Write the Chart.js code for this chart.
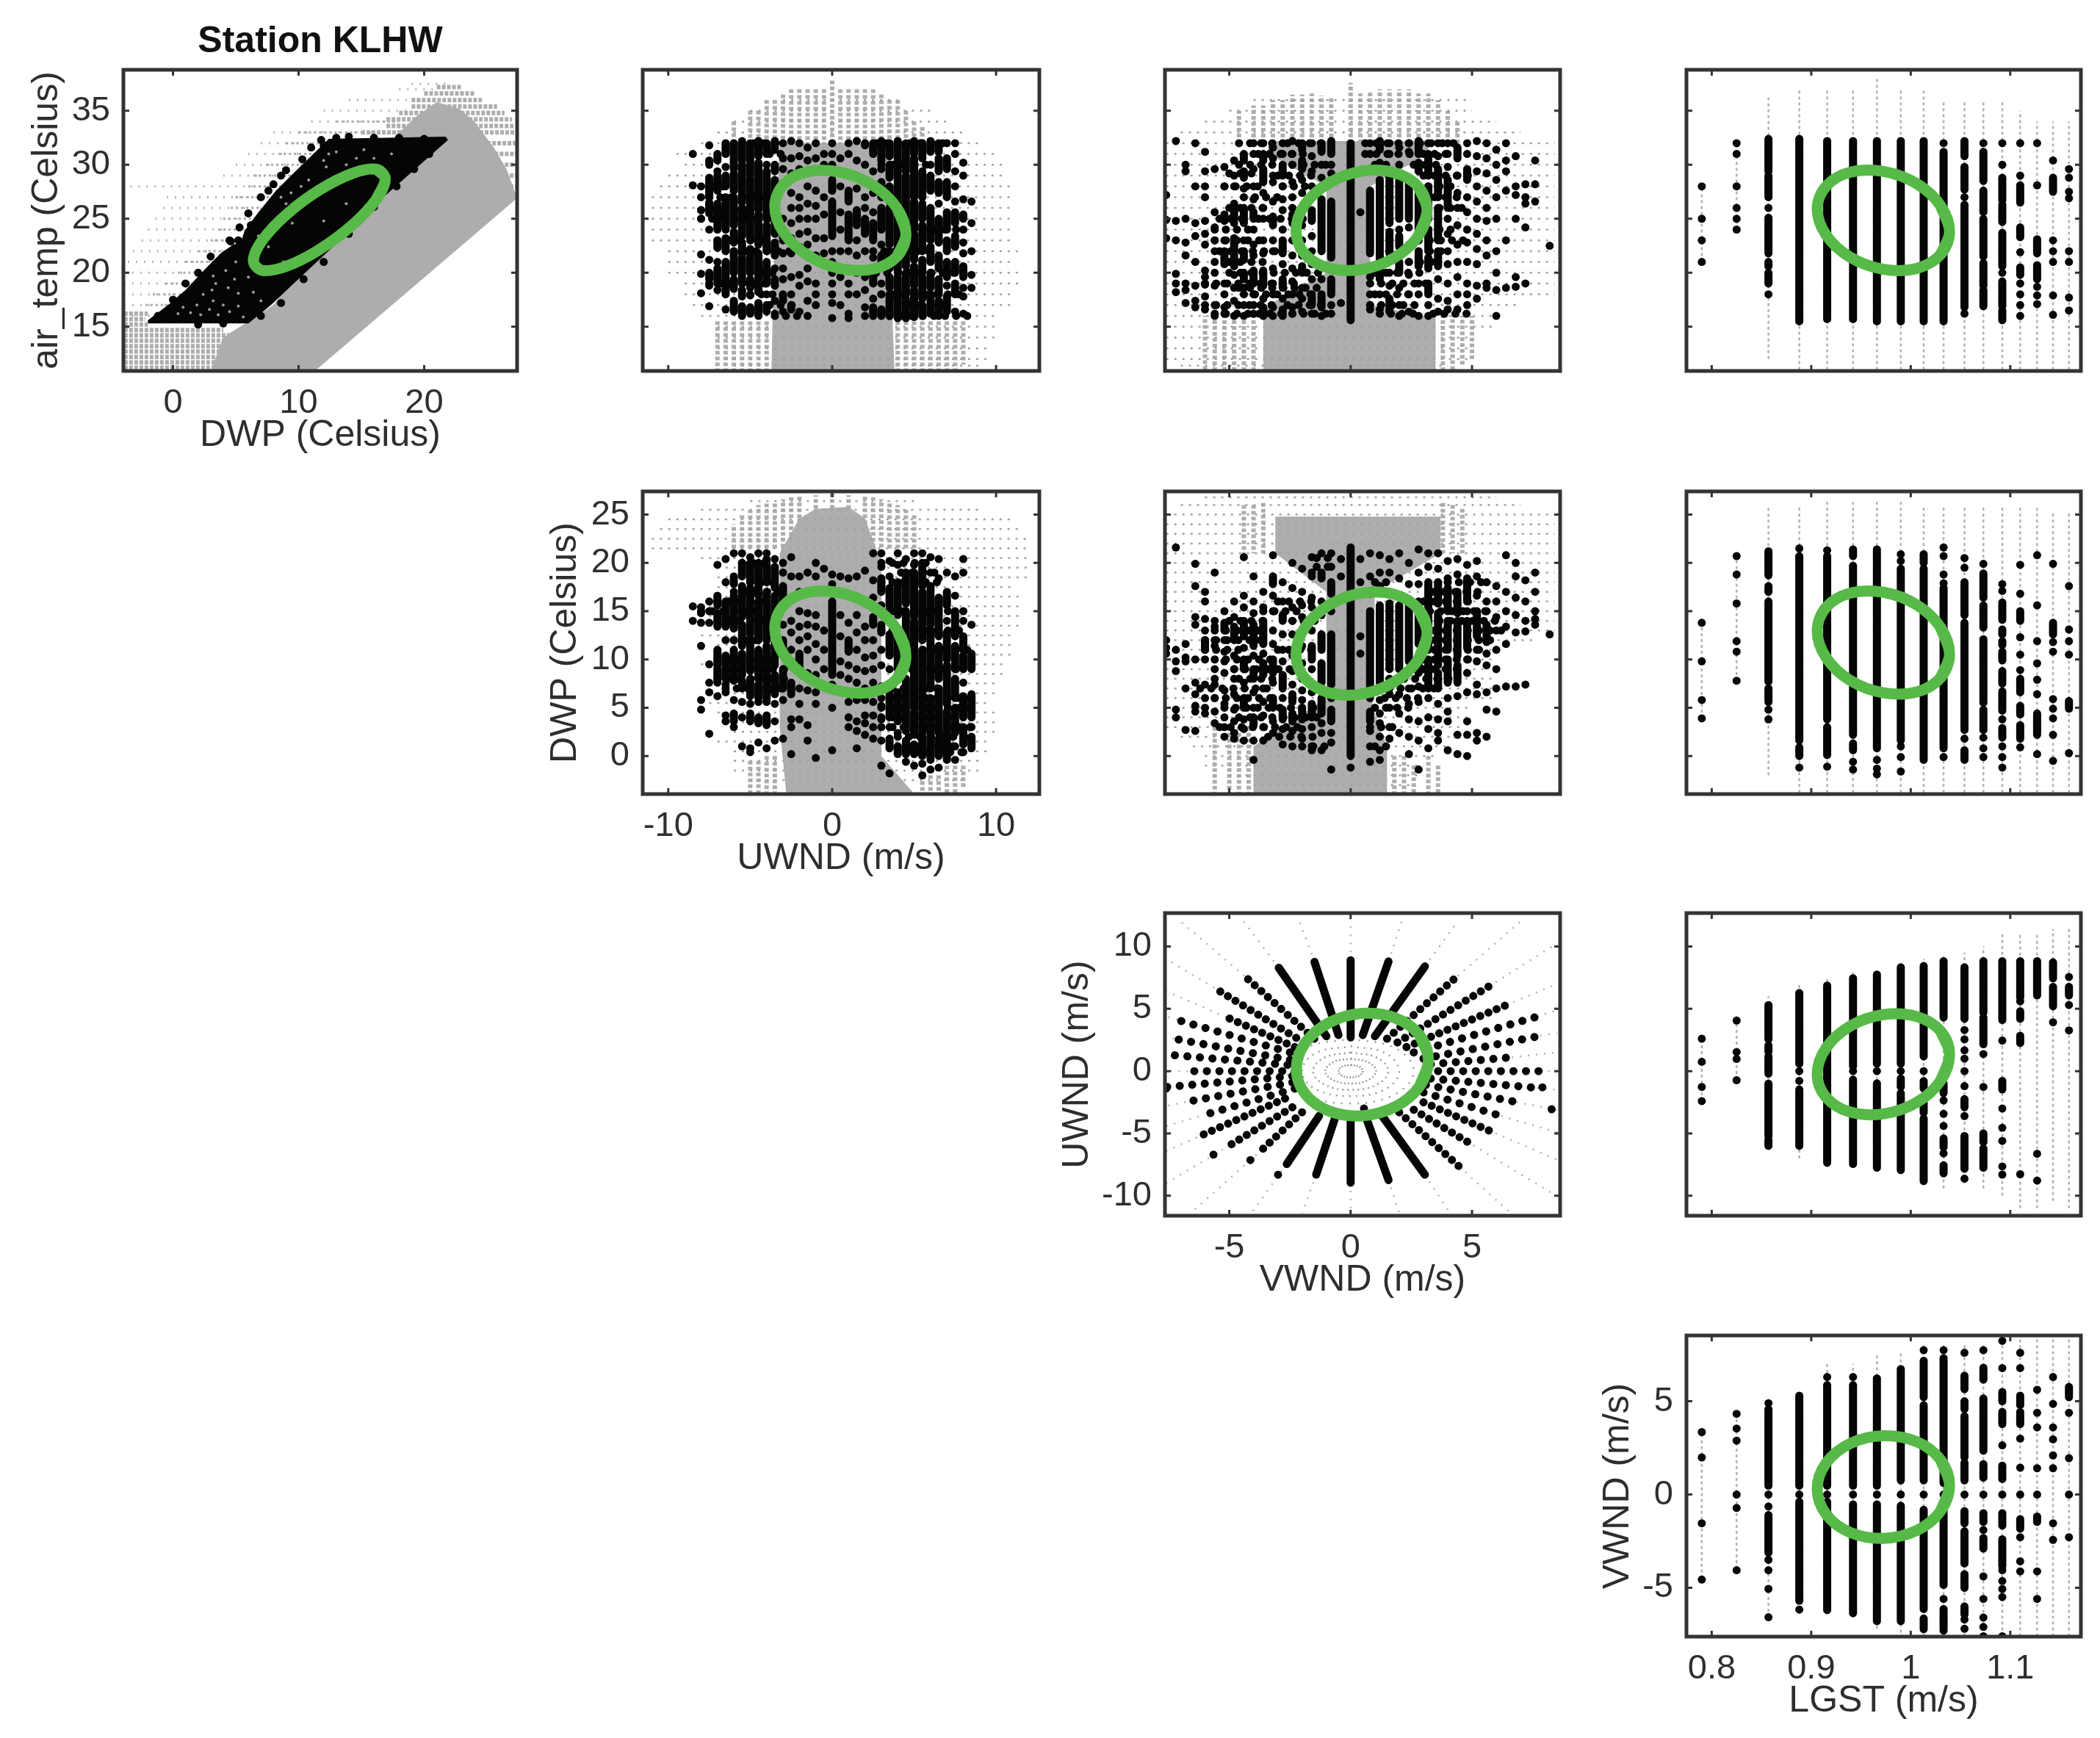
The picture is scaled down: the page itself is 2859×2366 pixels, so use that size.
<!DOCTYPE html>
<html>
<head>
<meta charset="utf-8">
<title>Station KLHW</title>
<script src="https://cdn.jsdelivr.net/npm/chart.js@4"></script>
<style>
  html, body { margin: 0; background: #fff; }
  #page { position: relative; width: 2859px; height: 2366px; overflow: hidden; }
  canvas { position: absolute; }
</style>
</head>
<body>
<div id="page"></div>
<script>
// tick labels
const dwpTicks = [0, 5, 10, 15, 20, 25];
const dwpXTicks = [0, 10, 20];
const airTicks = [15, 20, 25, 30, 35];
const uwndXTicks = [-10, 0, 10];
const uwndYTicks = [-10, -5, 0, 5, 10];
const vwndTicks = [-5, 0, 5];
const lgstTicks = [0.8, 0.9, 1, 1.1];

// green ellipses, twelve readings round each one
const ellipseAirDwp = [[16.9,28.7],[16.2,29.58],[14.28,29.2],[11.65,27.66],[9.03,25.39],[7.1,22.99],[6.4,21.1],[7.1,20.22],[9.03,20.6],[11.65,22.14],[14.28,24.41],[16.2,26.81]];
const ellipseAirUwnd = [[4.5,23.57],[3.96,25.98],[2.5,28.08],[0.5,29.32],[-1.5,29.36],[-2.96,28.19],[-3.5,26.13],[-2.96,23.72],[-1.5,21.62],[0.5,20.38],[2.5,20.34],[3.96,21.51]];
const ellipseAirVwnd = [[3.15,25.82],[2.79,27.96],[1.8,29.27],[0.45,29.4],[-0.9,28.3],[-1.89,26.29],[-2.25,23.88],[-1.89,21.74],[-0.9,20.43],[0.45,20.3],[1.8,21.39],[2.79,23.41]];
const ellipseAirLgst = [[1.039,23.8],[1.03,26.21],[1.006,28.25],[0.9725,29.38],[0.939,29.3],[0.915,28.02],[0.906,25.9],[0.915,23.49],[0.939,21.45],[0.9725,20.32],[1.006,20.4],[1.03,21.68]];
const ellipseDwpUwnd = [[4.5,10.34],[3.96,13.08],[2.5,15.48],[0.5,16.89],[-1.5,16.94],[-2.96,15.61],[-3.5,13.26],[-2.96,10.52],[-1.5,8.12],[0.5,6.71],[2.5,6.66],[3.96,7.99]];
const ellipseDwpVwnd = [[3.15,12.76],[2.79,15.23],[1.8,16.74],[0.45,16.88],[-0.9,15.62],[-1.89,13.3],[-2.25,10.54],[-1.89,8.07],[-0.9,6.56],[0.45,6.42],[1.8,7.68],[2.79,10]];
const ellipseDwpLgst = [[1.039,10.55],[1.03,13.31],[1.006,15.66],[0.9725,16.96],[0.939,16.86],[0.915,15.4],[0.906,12.95],[0.915,10.19],[0.939,7.84],[0.9725,6.54],[1.006,6.64],[1.03,8.1]];
const ellipseUwndVwnd = [[3.205,0.88],[2.84,2.89],[1.845,4.26],[0.485,4.63],[-0.875,3.9],[-1.87,2.27],[-2.235,0.17],[-1.87,-1.84],[-0.875,-3.21],[0.485,-3.58],[1.845,-2.85],[2.84,-1.22]];
const ellipseUwndLgst = [[1.039,1.32],[1.03,3.21],[1.006,4.38],[0.9725,4.53],[0.939,3.61],[0.915,1.87],[0.906,-0.22],[0.915,-2.1],[0.939,-3.28],[0.9725,-3.43],[1.006,-2.51],[1.03,-0.77]];
const ellipseVwndLgst = [[1.039,0.5],[1.03,1.86],[1.006,2.83],[0.9725,3.15],[0.939,2.73],[0.915,1.69],[0.906,0.3],[0.915,-1.06],[0.939,-2.03],[0.9725,-2.35],[1.006,-1.93],[1.03,-0.89]];

// panel air_temp / DWP
const airDwpBlack = [[-2,15.3],[6,15.3],[7.8,17],[9.7,19.1],[13.1,22.8],[16.75,27],[21.9,32.3],[21.7,32.6],[12.4,32.4],[11,30.8],[9.4,29],[8.2,27.6],[6.8,25.6],[5.7,23.9],[5.4,22.8],[4.8,22.6],[3.8,21.8],[2.6,20.4],[1,18.4],[-0.4,17],[-2,15.6]];
const airDwpEdge = [[-1.2,16],[0,17.5],[1,19],[2,20],[3,21.5],[4.5,23],[5.3,24.2],[6,25.5],[7,27],[8,28.2],[9,29.5],[10.3,30.5],[11,31.6],[11.8,32.3],[14,32.6],[16,32.5],[18,32.5],[20,32.4],[7,16],[8.6,17.2],[10.4,19.4],[12,21],[14,23.6],[16,26.1],[17.8,28],[19.2,29.6],[20.4,31],[2,15.2],[4,15.3],[4.6,22.9],[5.2,23],[6.2,24.4],[7.6,27.6],[8.6,29],[12,31.8],[13,32.5]];
const airDwpSpeckle = [[0.4,16.2],[0.8,16.8],[1.4,16.3],[1.9,17],[2.2,16.1],[2.9,16.6],[3.2,17.4],[3.6,16.1],[4,17],[4.5,16.4],[5.2,16.9],[5.6,15.9],[3.1,18.4],[3.4,19],[3.2,19.7],[2.4,18],[4.4,18.6],[4.9,19.4],[5.2,18.1],[4.2,20.2],[5,21],[6,19.6],[6.4,18.2],[7,17.4],[8.6,27],[9,26.4],[9.4,27.4],[9.2,25.6],[10.2,28],[10.8,28.6],[11.6,28],[12.2,29.8],[12.4,31],[13,31.2],[12,30.4],[14.6,30.6],[15.2,31.4],[13.8,30],[16,30.6],[17.4,31],[9.5,24.6],[7.6,22.4],[8,24.2],[6.8,23.4],[8.8,21],[12,24.8],[13.8,26.4]];
const airDwpDense = [[3,10.9],[11.3,10.9],[27.4,26.9],[26.6,29.5],[25.6,31.5],[24,34],[22.8,35.2],[21,35.8],[19.5,34.6],[18,33],[16,30],[8,17],[4,14]];
const airDwpBusyRows = [[11.2,-3.9,6],[11.7,-3.9,6],[12.2,-3.9,6],[12.7,-3.9,6],[13.2,-3.9,6],[13.7,-3.9,6],[14.2,-3.9,6],[14.7,-3.9,4],[15.2,-3.9,-2],[15.7,-3.9,-2.2],[16.2,-3.9,-2],[33,15,27.4],[33.6,17,27.2],[34.2,17,27],[34.8,18,26.4],[35.4,19,25.8],[36,19,24.6],[36.6,20,24],[37.2,21,23],[27,26.6,27.4],[28,26.4,27.4],[29,26,27.4],[30,25.6,27.4],[31,25.2,27.4],[32,24.6,27.4]];
const airDwpNearRows = [[17,-2.2,-0.4],[18,-1.6,0.8],[19,-0.6,1.6],[20,0.4,2.6],[21,1,3.4],[22,2,4.6],[23,3,5.5],[24,3.6,5.7],[25,4,6.2],[26,4.6,7],[27,5,7.8],[28,6,8.6],[29,6.4,9.4],[30,7.4,10.2],[31,8.4,11.2],[32,9,12],[33,10,15],[34,13,18]];
const airDwpSparseRows = [[16,-3.9,-1.5],[17,-3.9,-0.5],[18,-3.9,0.5],[19,-3.9,1.5],[20,-3.9,2.5],[21,-3.6,3.5],[22,-3.2,4.5],[23,-2.5,5.5],[24,-2,5.5],[25,-1.4,6],[26,-0.8,7],[27,-0.5,8],[28,-3.4,8.5],[29,4,9.5],[30,5,10.8],[31,6,11.5],[32,7,12],[33,8,16],[34,11,18],[35,12,19],[36,14,19],[37,18,21],[37.5,19,22]];

// black marks of the wind panels: one list per column, a number is a single
// reading, a pair is a stretch of touching readings
const uwndCols = [-8.5,-8,-7.5,-7,-6.5,-6,-5.5,-5,-4.5,-4,-3.5,-3,-2.5,-2,-1.5,-1,-0.5,0,0.5,1,1.5,2,2.5,3,3.5,4,4.5,5,5.5,6,6.5,7,7.5,8,8.5];
const airUwndRuns = [
  [31,28.1],
  [27,25.8,25,21.7,19.9,18.1],
  [31.8,[30.4,30],[28.8,27],[26.5,25.5],24,21.2,[20,19.4],18.8,16.9],
  [[31,30.4],29.4,[29,27.6],[26.4,24],[23,22.3],21,[20.4,19],18.4],
  [[32,31],29.8,[29,28],[27,24],[23.2,22],[21,19.2],[18.7,18],16.6],
  [[32,29.6],[29.2,27.6],[27,24.4],[23.8,22.8],[22,20],[19.4,18.5],[17.4,16.4]],
  [[32.2,30.4],[30,26.5],[26,23.4],[22.8,21.8],[21.4,19],[18.4,17.8],[16.9,16]],
  [[32,29],[28.8,25.4],[25,23],[22.2,20],[19.4,18.6],17.9,[16.8,16.2]],
  [[32.2,30.8],[30.2,25.8],[25.4,22.6],[21.8,19.4],[18.8,18.2],[17.2,16]],
  [[32,31],30,[29.4,25],[24.4,22],[21,19],18,[17,16.4]],
  [[32.2,31.4],[30,29.4],[28.6,26.6],[26,23.6],[22.8,21.6],20.4,[19.4,18.8],17.4,16.2],
  [32,30.6,29.6,28,25,[24,23],21.8,20.4,19.4,[18,17.4],16.4],
  [32.2,30.6,29.2,27.4,26,24.6,23.2,21.8,19.6,18,[17,16.6]],
  [32,30.8,29.6,27,26,25,23.6,22.4,19.8,18.8,16.4],
  [31.6,30.4,28,26.4,25,23.8,22.6,20.4,19.2,17.4,16],
  [32,30.6,27.6,26.2,25,23.2,21.6,19,18,17],
  [31,30,27,25.4,23.2,21.8],
  [32,31,30,[28.6,27.6],[26.6,23.4],22,21,20,19,18,17.2,15.8],
  [30.6,28,25.6,24,22,19.6,17],
  [32,31,[27.6,26.6],[25.4,23],22,20.4,19,18,16.2,15.8],
  [32.2,30.4,27.8,[25.8,24.4],23,21.6,20,18],
  [31.8,30,27,26,[25,23.6],22,19.6,18.4,16.8,16],
  [[32,31],29.4,27.4,25.6,[24.6,23],21.4,[19.8,19],17.6,[16.8,16]],
  [[32.2,30.4],29.6,[28.4,27],[26,24],22.6,[21.6,20.6],19,18,[16.6,16]],
  [[32,30.8],[30,28.8],[28,26.6],[26,22.6],[22,20.4],[19.6,18.6],[18,16]],
  [[32.2,30],[29.6,26],[25.8,22],[21.6,20],[19.6,17],[16.8,15.8]],
  [[32,29.4],[29,23.8],[23.4,20.6],[20,18],[17.6,15.8]],
  [[32.2,31],[30.6,27],[26.6,24],[23.6,21.2],[20.6,18.8],[18.4,15.9]],
  [[32,30.6],[29.4,27],[26.4,25],[24.4,22],[21.2,20],[19.6,17.6],[17,16]],
  [[32.2,31.2],30,[29,27.6],[26,23],[22.4,21],[20,18.6],[18,16.2]],
  [[32,31.2],[30.6,29.4],[28.4,27.4],26.4,[25,22.8],[21.6,20.4],[19.4,18],[17.4,16]],
  [32,[30.6,29.6],[28.4,27],[25.6,24],[23,22],[21,19.6],18.8,[17.8,16.4]],
  [32,31,29.4,28,26.6,[25.6,24.6],[23.4,22.4],[21,20],[19,18],16.4],
  [30.2,29,26.8,[25.4,25],24,22.8,21.8,[20.6,19.6],18.6,17.8,16.2],
  [26.6,24.6,22,19.8,18.6]
];
const airUwndBlobs = [[32,-5.5,-3],[32,2,7],[31,-4.5,-2.5],[30,3,6],[28,-8,-6],[27,-7.5,-4],[25.8,-8,-5],[25,-8,-3.5],[24,3.5,8],[23,-7,-4],[22,-6,-2.5],[22,2.5,6],[20,-5,-3],[20,2,7.5],[19,-7.5,-4],[18,-5,-3],[18,3,8],[17,-4.5,-2],[17,4,7],[16,-3.5,-2],[16,3.5,8.5]];
const dwpUwndRuns = [
  [15.5,14],
  [15.4,14.8,13.8,11.4,5.8,4.8],
  [16,15,13.8,9.5,7.6,6.6,2.3],
  [19.8,[16.6,15.6],[14.8,13.4],[11,9.4],[9,7.6],6.2],
  [20.4,18,[16,13.4],12,[10.4,8],7.4,6.6,4.2,3.6],
  [21,[18.6,17.8],[16.6,13.2],12,[11,7.8],5.8,[4.4,3.6],3],
  [21,[20,18.6],[17.6,14.4],[13.6,11.4],[10.6,8.4],[7.8,7],5.6,4,1],
  [20.6,[20,18],[17.4,12.6],[12,8.8],[8,6.2],5.4,[4.4,3.6],0.8,0.4],
  [21,[20,16.6],[16,12],[11,8],[7.4,6],5.6,[4,3.4],1.4],
  [21,[20.4,18],[17,12],[11.4,9],[8.6,5.6],[4.2,3.2],0.8],
  [20.4,[19.6,17.4],[16.6,12.8],[11.8,9.4],[8.4,6.4],5.4,3.6,1.6],
  [20,19,[17.6,16],13.6,[12,10.4],[9,7],5.8,1.8],
  [20.6,18.6,14,12.8,11,9.8,[7.6,6.4],3.8,3,0.2],
  [18.6,17,15,13.4,12,[10.6,9],7,5.4,3.8],
  [19,14.8,13.6,12.4,11,8.6,6.8,3.2,1.6],
  [20,18.6,14.6,13.4,11.6,10,8.4,6.6,5.4,-0.2],
  [19.4,13,11,9],
  [18.8,17.8,[16,8.4],7.4,5,0.6],
  [18.6,14.6,12.4,9.8,8.4],
  [18.4,13.8,[12,10.8],9.4,8,5.6,4,3],
  [18.6,14.6,12.8,11,9,7.6,5.8,3.6,2.6,0.8],
  [19.2,13.4,12,10.2,8.8,7,5.8,4.2,3.4,2.2],
  [21,18.2,16.4,[14.4,13.6],12,10.4,9,7.6,5.6,4.2,3,1.8],
  [21,19.6,[18.4,17],15.6,[13.6,12.8],11,9.4,7.2,5.2,3.8,1.6,-1],
  [20.2,18.6,[17.4,15],[12.6,10.4],[6.4,4],3,[1.8,0.8],-1.8],
  [21,19.8,[18,14.6],[13,9],[6.6,3.6],2.4,[1,0.2]],
  [20.4,[19,15.8],[15,9.6],[8,2.6],[1.6,0.2],-0.6],
  [21,19.8,[19,14.4],[14,5],[4.6,2.2],[1.2,0.2],-1],
  [21,[20,17.6],[17,12],[11,2.4],[2,0],-0.8,-2],
  [20.6,19,[17.6,13.6],[13,7],[6,3],[2.6,-0.4],-1.4],
  [20.4,18.4,[16.4,12.4],[11.4,8],[7,2.4],[1.8,0],-1.2],
  [19,[17,15.6],14,[12.8,10],[9.4,5.4],[4.6,1],[0.6,-0.4]],
  [18.6,16.6,[15,12.4],[11.4,9],[8,6],[5,2.4],1,-0.4],
  [20.4,19,15,14,[12.4,11],[10.4,9],7.6,[6.2,4],[3,1.2],0.4],
  [13.6,[10.6,9],[6.4,4],3,[2,0.8]]
];
const dwpUwndBlobs = [[20,-5.5,-3.5],[20,3,6],[19,4.2,6.5],[18,-5,-3],[18,3,7],[17,-6,-3],[16,-7,-4],[15,-8,-4],[15,3,7.5],[14,-7,-3],[13,3,8],[12,-6,-4],[11,3.5,8.5],[10,-7,-3.5],[9,-7,-2],[9,3.5,8],[8,-7,-2.5],[7,-6.5,-3],[7,3,7],[6,3,8.5],[5,3,8.5],[4,3,7.5],[3,3,8.5],[2,4,8.5],[1,4,8],[0.4,4.5,8.5]];
const vwndCols = [-7.6,-7.2,-6.8,-6.4,-6,-5.6,-5.2,-4.8,-4.4,-4,-3.6,-3.2,-2.8,-2.4,-2,-1.6,-1.2,-0.8,-0.4,0,0.4,0.8,1.2,1.6,2,2.4,2.8,3.2,3.6,4,4.4,4.8,5.2,5.6,6,6.4,6.8,7.2,7.6,8.2];
const airVwndRuns = [
  [27.2,24.9,23.2],
  [32.2,24.8,23,19.9,19,18.2],
  [30,29.4,25,22.8,21.6,19,18.4,17.2],
  [32,28,24.6,23.4,21,18.8,17.4,16.8],
  [31.2,29.4,28,27,24.8,23.6,22.6,20.2,19.6,18.9,17.8,16.6],
  [29.6,25.6,24.2,23,22,21,20,18.8,17,16],
  [29.8,28,25.4,24.8,23,[22,20.8],19,18,16.8,16.2],
  [30.4,29,28,[26.4,25],24.6,[23.2,20.6],19.8,18.6,17.4,16],
  [[31,30.4],[29.4,28.8],27.8,[26,24.6],23,[22,21.2],[20,19.4],18.6,17,16],
  [32,31,29.6,28,26.8,[25.6,25],24,22.6,21.6,[20.2,19],18,17,16.2],
  [32,[31,30.4],[29.6,28.4],27.4,26,25,23,21.8,[20.2,18.8],17.6,[16.8,16]],
  [31.6,30.6,29,28.4,26.6,[25.2,24.4],23,22,20.4,19,18,16.8,16],
  [32,31,[30,29],28,26.8,25.8,24,[23,21.8],20.8,[19.4,18.6],17.6,[16.6,16]],
  [32.2,31,30,28.4,27,25.4,24.6,23,21.6,20.4,19.2,18,16.8,16.2],
  [[32,31.4],[30.4,29.6],28.6,27.4,24.4,23,21.6,[20.6,20],18.6,17.6,16.4],
  [32,30.8,29.4,28,[25.8,24.8],23.4,22,20.8,19.4,[18,17],16.2],
  [[32,31.2],30,28.8,[26.8,22],20.6,19.4,[17.8,16.8],16],
  [[32.2,31],30,29.2,[26.6,21.4],[19.4,18],17,16.2],
  [17.2],
  [[32,15.6]],
  [25.6],
  [32,31,29.4,[27.6,21.8],19.6,18,17,16.6],
  [[32.2,31.4],[30.2,29.6],[28.6,21.2],[20.4,19.4],18,16.6],
  [32,31,29.4,[29,24.6],[23.8,21.8],20,18.8,[17.6,16.4]],
  [31.6,30,[29,25],24,[23.4,22.4],[21,20],18.6,17,16],
  [32,31.2,[28.8,25],24.2,22.6,21,19.8,18,16.4],
  [[32.2,31],[30.2,29.4],[28,24],23,[21.8,20.6],19,18,16],
  [32,[31,29],[28,25],[24,22],[21.4,20.4],[19,18],17,16],
  [32,30.8,[29.6,27],[26,23],[22,20.6],19.4,17.6,16.4],
  [32,31,29.8,[28.6,26],25,23.6,22,20.8,19,17.4,16.6],
  [[31.6,30.6],29,27.4,26,24.4,22.6,21,19.6,18,16.6],
  [32,31,[29.6,28.6],27,25.6,24,22.8,21,19,18,17],
  [32.2,30.8,29.4,28,26.6,25,23.6,22.2,20.8,18.8,17.6],
  [32,30.6,29.2,27.6,26,24.8,23,21.6,19,18.6],
  [31.4,30,28.6,27,25,22,20,18.4,16],
  [32,30.4,29.4,27.6,23,18.6],
  [30.8,28,27.2,25,19.6,18.7],
  [28.2,27,26.4,24.2,19],
  [30.4,28.2,26.6],
  [22.5]
];
const airVwndBlobs = [[32,-4.6,-3.2],[32,-2.6,-1],[32,0.6,2],[32,2.4,4.4],[31,-3.8,-1.6],[31,0.6,2.6],[31,3,4],[30,-4.6,-3.2],[30,-2.4,-1],[30,1,1.8],[30,2.6,3.8],[29.2,-5,-3.8],[29,-3,-1.4],[29,3,5],[28,-5.2,-3.6],[28,-2.8,-1.6],[28,3.2,4.2],[27,-4.4,-3],[27,3,4.8],[26,-5,-3.4],[26,-2.4,-1.6],[26,3.2,5],[25,-5.4,-4.4],[25,-3.8,-1.8],[24,-5.6,-4],[24,3.2,4.4],[23,-5.6,-3.6],[23,2.8,4.8],[22,-5.4,-2.8],[22,2.8,4],[21,-5,-3.2],[21,2.4,3.4],[20,-5,-1.2],[20,1,3],[19,-6,-2],[19,0.8,3.4],[18.6,-4.6,-1.2],[18,-4.4,-0.8],[18,1,2.4],[17,-6,-3],[17,-2.6,-0.8],[17,0.8,3],[16.2,-5.6,-0.8],[16.2,1.2,2.6],[16.2,3.4,5.2]];
const dwpVwndRuns = [
  [12,11.2,10.6],
  [21.6,11,9.8,8.8,4.8,4],
  [11.6,10.2,9.8,7,2.7],
  [19.9,17.6,14.4,13.6,10,7.6,6.4,5.2,4.6,2.6],
  [17,16,14.2,13,[12,11],10,7.4,6,5,4.4],
  [19,14,13.4,12,11.4,9,8,7.4,6,4.6,3.4],
  [15,[13.8,13],12,10.8,9.8,8.6,6.8,5.4,4,3,2],
  [16,14.4,[13.4,12],10.4,9,8,6.4,4.8,3.6,2.4,1.8],
  [20.6,16.6,15.4,[14,12.4],11.2,[10,9],7.6,[6,5],3.8,2.8,1.6],
  [18.6,16,14.8,[13.6,11.4],10.4,[9,8],6.6,5,[4,3.2],1.6,-0.4],
  [17,15.4,[14,11.6],10.6,[9.6,8.4],7,5.6,4.2,3,1.6],
  [20.8,[18.6,17.8],16.6,15,13,11.6,[10,8.6],7.6,[6,5],3.6,2.4],
  [18,16,[14.6,14],12.6,11,9.8,[8.4,7],6,[4.8,3.8],2.8,1.2],
  [20,17.4,15.4,14,12.6,10.4,8.8,7.4,[6.4,5.6],[4.4,3.6],2.6,1],
  [19.4,17,15.6,14.4,11.4,9.6,8,6.8,5.8,[5,3.8],2.8,1.8],
  [20.6,18.6,16.4,15.4,13,[11.4,10],9,7.4,6.6,[5.4,4],3,1,0.6],
  [21,[19,18.4],16,14.6,[12.6,11],[9.6,7.6],[6,4.4],3.4,2.4,0.6],
  [21,19.6,[18,16.8],15,[12.6,7.4],6,[4.8,3.6],2.4,1.4,-1.4],
  [20.4,18.6],
  [[21.6,0],-1.2],
  [20.4,18,12.4,10.6],
  [21,18.6,16.8,[15,7],6,[4.6,3.6],2.6,1,-0.6],
  [20.8,19,17.6,[15.6,7.6],5.8,4.4,3.4,2,0.6,-0.4],
  [20.4,19,[15.8,9],8,6.4,5,3,1.8],
  [21,18.4,[15.6,9],7.8,6.4,4.4,2.4],
  [20,17.8,[15.6,9.8],8.6,7,5.4,3.8,2,0.2],
  [21.4,19,17.8,16,[14.8,11.6],[10.4,8.6],7.2,5.6,3.6,1.6,-1.4],
  [21,19.6,[18,15.4],[14.6,11],[10,7],6,4,2.8,0.8],
  [21,19.4,[18,15.8],[14.8,9.4],[8.6,7],5.4,3.8,2.4,1.6],
  [20.2,18.4,[17.4,15],[14,11],[10,7.6],6,4.6,3.6,0.6],
  [20.4,18.8,[17,14.8],[14,10.4],[9.4,7.6],6.2,2.2,0.2],
  [19.8,[18.4,16],15,[14,11.2],10,8.6,6.6,3.6,2.2,0],
  [20.2,18.6,16.6,[15,12.4],11,9.8,7.4,6.4,2.4,1.6],
  [18,16,15,[13.6,11.8],10.6,9.4,6.6,4.8,2],
  [17.6,16,14.4,13,11,9,7,4.6],
  [20.8,17,15,13.4,11.6,7.2],
  [20,18.6,16.4,14.6,12.8,7.2],
  [18.2,16,14,12.9,7.4],
  [19,17,15,14.2,13.6],
  [12.6]
];
const dwpVwndBlobs = [[20.5,-1.4,-0.8],[19.6,-1.4,-0.8],[19,-1.6,-1.2],[18,1,1.8],[18,4,5.6],[17,3.4,5.4],[16,3,5],[16,-3,-1.2],[15,-3.6,-2],[15,2.8,5.6],[14,-5,-3.6],[14,-2.4,-1.2],[14,3.2,6],[13,-5.6,-3.6],[13,3,6.4],[12,-6,-3.6],[12,3,6],[11,-6,-4.4],[11,-3,-1.4],[11,3,5.6],[10,-5.6,-3.2],[10,3,5.2],[9,-4.8,-2.2],[9,3,4.8],[8,-4.6,-3],[8,2.2,4.4],[7,-6.2,-3.4],[7,1.6,3.8],[6,-5.6,-3],[6,1.4,2.8],[5,-5.2,-1.2],[5,1,2.4],[4,-4.6,-1.2],[3,-5.4,-2],[3,0.8,1.8],[2,-3.4,-1.2],[1,-2,-1],[1,1,1.6]];

// gray background of the wind panels
const airUwndDense = [[-3.7,10.9],[-3.6,19],[-3.2,32],[3.6,32],[3.6,19],[3.8,10.9]];
const airUwndGrayCols = [[-6,34,32],[-5,35,32],[-4.5,35,32],[-4,36,32],[-3.5,36,32],[-3,36.5,32],[-2.5,37,32],[-2,37,32],[-1.5,37,32],[-1,37,32],[-0.5,37,32],[0,37.8,32],[0.5,37,32],[1,37,32],[1.5,37,32],[2,37,32],[2.5,37,32],[3,36.5,32],[3.5,36,32],[4,36,32],[4.5,35,32],[5,34,32],[5.5,33.5,32],[-7,15.5,11],[-6.5,15.5,11],[-6,15.5,11],[-5.5,15.5,11],[-5,15.5,11],[-4.5,15.5,11],[-4,15.5,11],[4,15.5,11],[4.5,15.5,11],[5,15.5,11],[5.5,15.5,11],[6,15.5,11],[6.5,15.5,11],[7,15.5,11],[7.5,15.5,11],[8,15.5,11.5]];
const airUwndGrayRows = [[36,-3,4],[35,-5,6],[34,-6,7],[33,-7,8],[32,-8,9],[31,-9.5,10],[30,-9,10.5],[29,-10,10.5],[28,-10.5,11],[27,-11,11],[26,-11,11],[25,-11,11],[24,-11,11],[23,-11,11],[22,-10,11.5],[21,-10,11],[20,-10,11.5],[19,-9,11.5],[18,-9,11],[17,-8.5,11],[16,-8,10],[15,-7,10],[14,-7,10],[13,-7,9.5],[12,-6.5,9.5],[11.4,-6,9]];
const dwpUwndDense = [[-3.2,21],[-2,24.6],[-1,25.6],[1,25.8],[2,24.6],[3,20],[3,0],[5,-3.9],[-2.8,-3.9],[-3.2,3]];
const dwpUwndGrayCols = [[-6,21.5,24],[-5.5,21.5,25],[-5,21.5,25.5],[-4.5,21.5,26],[-4,21.5,26.2],[-3.5,21.5,26.4],[-3,21,26.6],[-2.5,21,26.8],[-2,21,26.9],[-1,25,27],[0,25,27.2],[1,25,27],[2,21,26.9],[2.5,21,26.8],[3,21,26.6],[3.5,21.5,26.4],[4,21.5,26],[4.5,21.5,25.5],[5,21.5,25],[-5,-0.5,-3.9],[-4.5,-0.5,-3.9],[-4,0,-3.9],[-3.5,0,-3.9],[5.5,-2,-3.9],[6,-2,-3.9],[6.5,-2,-3.9],[7,-1,-3.9],[7.5,-1,-3.9],[8,-1,-3.4]];
const dwpUwndGrayRows = [[26.4,-5,5],[25.5,-8,9],[24.5,-10,11],[23.5,-10.5,11.5],[22.5,-11,12],[21.5,-11,12],[20.5,-8,12],[19.5,-7,12],[18.5,-7,12],[17.5,-7,11],[16.5,-7,11.5],[15.5,-8,11.5],[14.5,-8,11.5],[13.5,-8,11.5],[12.5,-8,11],[11.5,-7,11],[10.5,-7,11],[9.5,-8,10.5],[8.5,-7,10.5],[7.5,-7,10],[6.5,-7,10],[5.5,-8,9.5],[4.5,-7,10],[3.5,-6,10],[2.5,-6,10],[1.5,-7,9.5],[0.5,-6,9.5],[-0.5,-6,9],[-1.5,-6,9],[-2.5,-5,8]];
const airVwndDense = [[-3.4,32.2],[3.2,32.2],[3.2,31],[0.8,28],[0.8,17],[3.5,15.8],[3.5,10.9],[-3.6,10.9],[-3.6,15.8],[-3.4,17],[-1,20],[-1,28],[-3.4,31]];
const airVwndGrayCols = [[-4,10.9,16],[-4.4,10.9,16],[-4.8,10.9,16],[-5.2,10.9,16],[-5.6,10.9,16],[-6,11,16],[3.8,10.9,16],[4.2,11,16],[4.6,11.5,16],[5,12,16],[-4.6,32,35],[-4,32,35.5],[-3.6,32,35.5],[-3.2,32,36],[-2.8,32,36],[-2.4,32,36.5],[-2,32,36.5],[-1.6,32,36.6],[-1.2,32,36.4],[-0.8,32,36.2],[0,32,37.6],[0.4,32,36.6],[0.8,32,36.8],[1.2,32,37],[1.6,32,37],[2,32,37],[2.4,32,37],[2.8,32,36.6],[3.2,32,36.6],[3.6,32,36],[4,32,35],[4.4,32,34]];
const airVwndGrayRows = [[36,-4,5],[35,-5,5],[34,-6,6],[33,-7,7],[32,-7.6,8.4],[31,-7.6,8.4],[30,-7.6,8.4],[29,-7.6,8.4],[28,-7.6,8.4],[27,-7.6,8.4],[26,-7.6,8.4],[25,-7.6,8.4],[24,-7.6,8.4],[23,-7.6,8.4],[22,-7.6,8.4],[21,-7.6,8.4],[20,-7.6,8.4],[19,-7.6,8.4],[18,-7.6,8.4],[17,-7.6,7],[16,-7.6,6],[15,-7.6,6],[14,-7.6,5],[13,-7.6,5],[12,-7.6,5],[11.4,-7,4]];
const dwpVwndDense = [[-3.1,24.8],[3.7,24.8],[3.7,21],[1,17],[0.9,5],[1.5,1],[1.5,-3.9],[-4,-3.9],[-4,1],[-1,6],[-1,17],[-3.1,21]];
const dwpVwndGrayCols = [[-4.4,26,21],[-4,26,21],[-3.6,26.2,21],[3.8,26.2,21],[4.2,26,21],[4.6,25.6,21],[-5.6,3,-3.9],[-5,3,-3.9],[-4.6,3,-3.9],[-4.2,3,-3.9],[1.8,0,-3.9],[2.2,0,-3.9],[2.6,-1,-3.9],[3.2,0,-3.9],[3.6,-1,-3.8]];
const dwpVwndGrayRows = [[26.8,-6,6],[26,-7,7],[25,-7.6,8.4],[24,-7.6,8.4],[23,-7.6,8.4],[22,-7.6,8.4],[21,-7.6,8.4],[20,-7.6,8.4],[19,-7.6,8.4],[18,-7.6,8.4],[17,-7.6,8.4],[16,-7.6,8.4],[15,-7.6,8.4],[14,-7.6,8.4],[13,-7.6,8.4],[12,-7.6,7.5],[11,-7.6,6],[10,-7.6,6],[9,-7.6,5.5],[8,-7.6,6],[7,-7.6,6.5],[6,-7.6,6],[5,-7.6,5],[4,-7.6,5],[3,-7.6,4.5],[2,-7,4.5],[1,-6.5,4],[0,-6,3.5],[-1,-6,3],[-2,-5,3],[-3,-4,2.5]];

// panel UWND / VWND: each ray is start, end of the black part, end of the gray part
const steepRays = [[0,2.7,0,8.9,0,12.2],[0.5,2.9,1.56,8.8,2.1,12],[1,2.8,3.06,8.4,4.4,12],[-0.5,2.9,-1.49,8.76,-2.1,12],[-1,2.8,-2.96,8.29,-4.4,12],[0,-4,0,-8.95,0,-11.4],[0.65,-3.8,1.56,-8.74,2,-11.4],[1.3,-3.6,3.06,-8.31,4.1,-11.4],[-0.65,-3.8,-1.42,-8.3,-2,-11.4],[-1.3,-3.6,-2.63,-7.45,-4.1,-11.4]];
const midRays = [[1.5,2.6,4.41,7.64,7,12],[1.93,2.3,5.69,6.79,8.3,10],[2.3,1.93,6.4,5.29,8.5,7],[-1.5,2.6,-4.38,7.64,-7,12],[-1.93,2.3,-5.62,6.68,-7.6,9],[-2.3,1.93,-5.12,4.33,-7.6,6.4],[2,-3.3,4.48,-7.67,6.6,-11.4],[2.6,-3.1,5.05,-5.95,8.3,-9.8],[3,-2.5,5.97,-4.99,8.5,-7.1],[-2,-3.3,-3.63,-6.27,-6.6,-11.4],[-2.4,-2.9,-4.98,-5.95,-7.6,-9],[-2.7,-2.2,-6.33,-5.31,-7.6,-6.4]];
const flatRays = [[2.6,1.5,7.68,4.37,8.5,4.9],[3,1,7.82,2.83,8.5,3.1],[3.3,0.55,6.64,1.11,8.5,1.5],[3.6,0,7.8,0,8.5,0],[3.3,-0.6,7.68,-1.35,8.5,-1.5],[3.1,-1.1,6.83,-2.48,8.5,-3.1],[3,-1.7,6.2,-3.6,8.5,-4.9],[-2.5,1.5,-7.14,4.11,-7.6,4.4],[-2.5,0.9,-7.28,2.6,-7.6,2.8],[-2.6,0.5,-7.6,1.33,-7.6,1.33],[-2.3,0,-6.7,0,-7.6,0],[-2.4,-0.4,-7.6,-1.28,-7.6,-1.3],[-2.4,-0.9,-6.8,-2.48,-7.6,-2.8],[-2.3,-1.4,-6.26,-3.64,-7.6,-4.4]];
const rayOutliers = [[8.28,-3.06],[-4.13,-7.13],[-2.99,-8.31],[-5.65,-6.7],[0.55,-3],[-7.6,-1.4],[7.9,-1.3]];
const calmRing1 = [[0,0.5],[0.36,0.36],[0.5,0],[0.36,-0.36],[0,-0.5],[-0.36,-0.36],[-0.5,0],[-0.36,0.36],[0,0.5]];
const calmRing2 = [[0,1],[0.72,0.72],[1.05,0],[0.72,-0.72],[0,-1],[-0.72,-0.72],[-1.05,0],[-0.72,0.72],[0,1]];
const calmRing3 = [[0,1.5],[1.08,1.08],[1.55,0],[1.08,-1.08],[0,-1.5],[-1.08,-1.08],[-1.55,0],[-1.08,1.08],[0,1.5]];
const calmRing4 = [[0,2],[1.44,1.44],[2,0],[1.44,-1.44],[0,-2],[-1.44,-1.44],[-2,0],[-1.44,1.44],[0,2]];
const calmRing5 = [[0,2.6],[1.84,1.84],[2.6,0],[1.84,-1.84],[0,-2.6],[-1.84,-1.84],[-2.6,0],[-1.84,1.84],[0,2.6]];

// LGST panels, same 17 columns in each
const lgstCols = [0.79,0.825,0.857,0.888,0.916,0.942,0.966,0.99,1.013,1.033,1.054,1.073,1.092,1.11,1.127,1.143,1.159];
const airLgstRuns = [
  [28,25,23,21],
  [32,31,28,26,25,24],
  [[32.4,29.4],[29,27],26,[25.1,21.8],[21,20.6],[20,19],18],
  [[32.4,15.5]],
  [[32.2,15.7]],
  [[32.2,15.7]],
  [[32.2,15.5]],
  [[32.2,15.5]],
  [[32.2,15.5]],
  [32,[31.2,15.5]],
  [[32.2,30.8],[29.8,27.7],27,[26.3,16.8],16.2],
  [32,[31.2,28.5],[27.6,25.6],[25,21.5],[20.9,18.8],[18.4,16.9]],
  [32,30,[28.8,26.7],[26.3,24.7],[23.7,20.6],20,[19.2,16.9],[16.5,15.6]],
  [32,29,[28.1,26.5],[24.2,23.3],21.9,[20.5,19.8],19,18,17,16],
  [32,28.1,[23.1,21.8],[20.7,19.4],18.7,17.9,17.1],
  [30.4,[28.8,27.5],23,22,21,17.9,16.1],
  [29.6,28.8,27.5,26.9,22,21,17.7,16.5]
];
const dwpLgstRuns = [
  [13.8,9.8,5.8,3.9],
  [20.7,18.8,15.8,11.9,10.8,7.8],
  [[21.2,18.7],[17.6,17],[16,7.7],[7,5.6],4.8,3.8],
  [21.5,[20.7,1.6],[0.9,0],-1.2],
  [21.3,[20.7,3.8],[3,0.1],-1.1],
  [[21.4,20.7],[19.7,2.2],[1.3,0.6],-0.6,-1.4],
  [[21.4,0.8],-0.4,-1.3,-1.9],
  [20.9,20.2,[19.4,1.6],1,-0.1,-1.6],
  [[20.9,20],[19.4,-0.4]],
  [21.6,20.7,18.8,17.9,[17.4,0.8],-0.1],
  [20.5,19.5,[18,14.6],[13.8,2.7],1.8,[0.6,-0.4]],
  [19.9,[18.9,16.4],[15.6,13.3],[12.1,5.5],[4.8,2.7],1.9,0.8,-0.1],
  [17.8,17.1,[15.9,14.1],[13.1,12.6],[11.9,11.5],[10.8,9.9],[8.8,7.5],[6.7,4.7],3.8,[2.9,1.9],1,-0.1,-1.2],
  [19.8,16.8,[15,14],12.3,10.5,8.9,[8,6.6],[5.2,4.3],[3.2,1.8],0.9],
  [20.8,15.6,11.9,9.6,7.9,6.4,[4.4,2.2],0.2],
  [19.9,[13.8,12.6],11.8,10.8,5.9,4.9,3.9,2.2,-0.5],
  [17.6,13.1,11.9,10.5,[5.7,4.9],0.3]
];
const uwndLgstRuns = [
  [2.6,0.75,-1.27,-2.4],
  [4.06,1.53,0.98,-0.73],
  [[5.3,2.55],[2.06,1.57],[1.18,-0.2],[-1,-5.2],[-5.5,-6]],
  [[6.27,0.59],0,-0.78,[-1.47,-6]],
  [[6.86,-7.35]],
  [[7.45,0.4],0,[-0.69,-7.45]],
  [[7.75,0.59],0,[-0.98,-7.75]],
  [[8.33,0.59],0,[-0.59,-1.27],[-1.76,-7.94]],
  [[8.43,1.18],0,[-0.8,-1.4],[-2.55,-3.33],[-3.8,-8.82]],
  [[8.82,4.3],[-1,-1.76],-2.35,-3.43,-4.4,[-5.4,-6.1],-6.6,[-7.55,-8.2]],
  [[8.33,4.2],3.3,2.55,1.67,1,0,-1.2,[-2.25,-2.9],-3.6,[-5.2,-7.84],-8.63],
  [[8.82,4.7],[4.3,2.16],1.37,-1.27,[-5,-5.7],[-6.2,-7.75]],
  [[8.82,4.1],2.45,[-0.78,-1.47],-3,-4.55,-5.6,-7.65,-8.3],
  [[8.82,5.9],5.6,[4.8,4.2],[2.84,2.25],-8.27],
  [[8.82,6.08],-6.63,-8.78],
  [[8.73,7.45],[6.76,5.2],3.92],
  [7.55,[6.76,6.08],5.3,3.27]
];
const vwndLgstRuns = [
  [3.35,1.99,-1.54,-4.56],
  [4.33,3.54,2.89,0,-0.72,-4.06],
  [4.9,[4.58,0.47],0,-0.64,[-1.1,-3.12],-3.5,-4.06,-5.06,-6.58],
  [[5.3,0.47],0,[-0.39,-5.7],-6.17],
  [6.3,[5.87,0.47],0,[-0.39,-6.2]],
  [6.3,[5.87,0.47],0,[-0.53,-6.36]],
  [[6.23,0.47],0,[-0.53,-6.79]],
  [[6.73,0.76],0,[-0.6,-6.79]],
  [7.74,[7.17,5.22],[4.79,0.76],0,[-0.82,-6.14],[-6.65,-7.22]],
  [7.74,[7.31,0.62],0,[-0.82,-4.85],-5.6,[-6.14,-7.3]],
  [7.6,[6.37,5.65],[5,4.58],[4.2,1.99],[1.7,0.76],0,[-0.89,-1.54],[-1.97,-3.7],[-4.27,-5],[-6,-6.43],-6.7,-7.2],
  [7.74,[6.8,6.16],[5.15,2.35],[1.63,0.9],0,[-1,-1.47],-1.9,[-2.33,-2.9],-4.39,-5.6,-6.6,-7.1,-7.6],
  [8.24,6.78,[5.5,5],[4.43,3.78],2.64,[1.55,0.83],0,[-1,-1.67],[-2.4,-3.84],-4.06,-4.64,-5.07,-5.5,-7.6],
  [7.6,6.78,[5.3,4.79],[4.43,3.78],3,1.44,0,[-1.32,-1.83],-2.29,-3.58,-4.12],
  [5.62,4.38,3.6,1.41,0,[-1.18,-1.47],-4.12,-5.6],
  [6.3,4.86,3.6,2.96,2.1,1.41,-1.54,-2.43],
  [[5.77,5.22],4.38,1.95,0,-2.29]
];
const airLgstGray = [[21,28],[24,32],[12,36.5],[11,37],[11,37],[11,37],[11,38],[11,37],[11,37],[11,36],[11,36],[11,36],[11,36],[11,35],[11,34],[11,34],[11,34]];
const dwpLgstGray = [[3.9,13.8],[7.8,20.7],[-2,26],[-3.8,26],[-3.8,26.4],[-3.8,26.4],[-3.8,26.4],[-3.8,26.4],[-3.8,26],[-3.8,26],[-3.8,26],[-3.8,26],[-3.8,26],[-3.8,26],[-3.8,26],[-3.8,25.4],[-3.8,25.4]];
const uwndLgstGray = [[-2.4,2.6],[-0.7,4],[-5,6],[-7,7],[-7,7.5],[-7.4,8],[-7.8,8],[-8,8.6],[-9,9],[-9.4,9.4],[-9,9.5],[-9.4,10],[-10,11],[-11,11],[-11,11],[-10.4,11.4],[-11,11.4]];
const vwndLgstGray = [[-4.5,3.3],[-4,4.3],[-6.6,5],[-6.2,5.5],[-6.4,7],[-6.6,7],[-7.2,7.6],[-7.4,7.6],[-7.6,8],[-7.6,8],[-7.6,8],[-7.6,8],[-7.6,8.5],[-7.6,8.5],[-7.6,8.5],[-7.6,8.5],[-7.6,8.5]];

const BLACK = "#050505";
const GRAY = "#adadad";
const STIPPLE = "#a2a2a2";
const GREEN = "#57b947";
const INK = "#2e2e2e";
const MARK = 11;

// page geometry of the plot boxes
const colLeft = [168, 875, 1586, 2296];
const colWidth = [536, 540, 538, 537];
const rowTop = [95, 669, 1243, 1818];
const rowHeight = [410, 412, 412, 410];
const Y_AXIS = 168;
const X_AXIS = 120;
const PAD_TOP = 50; // room for half a tick label above the box
const PAD_RIGHT = 10;

Chart.defaults.font.family = '"Liberation Sans", Arial, sans-serif';
Chart.defaults.color = INK;

function pts(list) {
    return list.map((p) => ({ x: p[0], y: p[1] }));
}

// a gap between two stretches is a point with no y
function withGaps(pairs) {
    const out = [];
    pairs.forEach((s) => {
        out.push({ x: s[0], y: s[1] }, { x: s[2], y: s[3] }, { x: s[0], y: null });
    });
    return out;
}

function polygon(list, color) {
    return { data: pts(list), showLine: true, pointRadius: 0, borderWidth: 0, backgroundColor: color, fill: "shape" };
}

function stroke(data, color, width, dash, cap) {
    return {
        data: data,
        showLine: true,
        pointRadius: 0,
        borderColor: color,
        borderWidth: width,
        borderDash: dash || [],
        borderCapStyle: cap || "butt",
        spanGaps: false,
        fill: false,
    };
}

function dots(list, color, radius) {
    return { data: pts(list), showLine: false, pointRadius: radius, pointBorderWidth: 0, backgroundColor: color, pointBackgroundColor: color };
}

// wrap round so the curve has neighbours at the join too
function ellipse(list) {
    const n = list.length;
    const ds = stroke(pts([list[n - 1], ...list, list[0], list[1]]), GREEN, 15, [], "round");
    ds.tension = 0.35;
    ds.borderJoinStyle = "round";
    return ds;
}

// columns of runs -> one stroked dataset and one dot dataset
function columns(xs, runs) {
    const stretches = [];
    const single = [];
    runs.forEach((items, i) => {
        items.forEach((it) => {
            if (Array.isArray(it)) stretches.push([xs[i], it[0], xs[i], it[1]]);
            else single.push([xs[i], it]);
        });
    });
    return [stroke(withGaps(stretches), BLACK, MARK, [], "round"), dots(single, BLACK, MARK / 2)];
}

function grayRows(rows, color, width, dash) {
    return stroke(withGaps(rows.map((r) => [r[1], r[0], r[2], r[0]])), color, width, dash);
}

function grayCols(cols, color, width, dash) {
    return stroke(withGaps(cols.map((c) => [c[0], c[1], c[0], c[2]])), color, width, dash);
}

// rows of separate round marks, not solid bars
function blobs(rows) {
    return stroke(withGaps(rows.map((r) => [r[1], r[0], r[2], r[0]])), BLACK, MARK, [0.1, 15], "round");
}

function lgstGray(ranges) {
    return stroke(withGaps(ranges.map((r, i) => [lgstCols[i], r[0], lgstCols[i], r[1]])), "#b2b2b2", 2.5, [4, 4]);
}

function windLayers(dense, cols, rows, runsX, runs, extra, ell) {
    return [
        polygon(dense, GRAY),
        grayCols(cols, GRAY, 6, [5, 3]),
        grayRows(rows, STIPPLE, 2.5, [3, 8]),
        ...columns(runsX, runs),
        blobs(extra),
        ellipse(ell),
    ];
}

function lgstLayers(gray, runs, ell) {
    return [lgstGray(gray), ...columns(lgstCols, runs), ellipse(ell)];
}

function blackRays(rays) {
    return withGaps(rays.map((r) => [r[0], r[1], r[2], r[3]]));
}

function farRays(rays) {
    return withGaps(rays.map((r) => [r[2], r[3], r[4], r[5]]));
}

function ringLine(list, dash) {
    const ds = stroke(pts(list), "#9a9a9a", 2.5, dash);
    ds.tension = 0.4;
    return ds;
}

// box and inward ticks on all four sides
const framePlugin = {
    id: "frame",
    afterDatasetsDraw(chart) {
        const { ctx, chartArea: a, scales } = chart;
        ctx.save();
        ctx.strokeStyle = "#333";
        ctx.lineWidth = 3;
        ctx.beginPath();
        scales.x.ticks.forEach((t) => {
            const px = scales.x.getPixelForValue(t.value);
            ctx.moveTo(px, a.top);
            ctx.lineTo(px, a.top + 8);
            ctx.moveTo(px, a.bottom);
            ctx.lineTo(px, a.bottom - 8);
        });
        scales.y.ticks.forEach((t) => {
            const py = scales.y.getPixelForValue(t.value);
            ctx.moveTo(a.left, py);
            ctx.lineTo(a.left + 8, py);
            ctx.moveTo(a.right, py);
            ctx.lineTo(a.right - 8, py);
        });
        ctx.stroke();
        ctx.lineWidth = 5;
        ctx.strokeRect(a.left, a.top, a.right - a.left, a.bottom - a.top);
        ctx.restore();
    },
};

function panel(col, row, cfg) {
    const canvas = document.createElement("canvas");
    const top = cfg.title ? 0 : PAD_TOP;
    const width = Y_AXIS + colWidth[col] + PAD_RIGHT;
    const height = (cfg.title ? rowTop[row] : PAD_TOP) + rowHeight[row] + X_AXIS;
    canvas.width = width;
    canvas.height = height;
    canvas.style.left = colLeft[col] - Y_AXIS + "px";
    canvas.style.top = (cfg.title ? 0 : rowTop[row] - PAD_TOP) + "px";
    canvas.style.width = width + "px";
    canvas.style.height = height + "px";
    document.getElementById("page").appendChild(canvas);

    const label = (v) => String(v);
    new Chart(canvas.getContext("2d"), {
        type: "scatter",
        // first dataset is painted last, the lists are written bottom layer first
        data: { datasets: cfg.layers.slice().reverse() },
        options: {
            responsive: false,
            animation: false,
            devicePixelRatio: 1,
            events: [],
            layout: { autoPadding: false, padding: { top: top, right: PAD_RIGHT, left: 0, bottom: 0 } },
            plugins: {
                legend: { display: false },
                tooltip: { enabled: false },
                title: {
                    display: !!cfg.title,
                    text: cfg.title || "",
                    fullSize: false,
                    color: "#111",
                    font: { size: 50, weight: "bold" },
                    padding: { top: 27, bottom: 8 },
                },
            },
            scales: {
                x: {
                    type: "linear",
                    min: cfg.xRange[0],
                    max: cfg.xRange[1],
                    grid: { display: false },
                    border: { display: false },
                    afterBuildTicks: (s) => { s.ticks = cfg.xTicks.map((v) => ({ value: v })); },
                    afterFit: (s) => { s.height = X_AXIS; },
                    ticks: { display: !!cfg.xTitle, callback: label, autoSkip: false, maxRotation: 0, minRotation: 0, padding: 8, font: { size: 47 } },
                    title: { display: !!cfg.xTitle, text: cfg.xTitle || "", font: { size: 50 }, padding: { top: 0, bottom: 2 } },
                },
                y: {
                    type: "linear",
                    min: cfg.yRange[0],
                    max: cfg.yRange[1],
                    grid: { display: false },
                    border: { display: false },
                    afterBuildTicks: (s) => { s.ticks = cfg.yTicks.map((v) => ({ value: v })); },
                    afterFit: (s) => { s.width = Y_AXIS; },
                    ticks: { display: !!cfg.yTitle, callback: label, autoSkip: false, padding: 10, font: { size: 47 } },
                    title: { display: !!cfg.yTitle, text: cfg.yTitle || "", font: { size: 50 }, padding: { top: cfg.yGap || 0, bottom: 0 } },
                },
            },
        },
        plugins: [framePlugin],
    });
}

const airRange = [10.9, 38.8];
const dwpRange = [-3.94, 27.4];
const uwndRange = [-11.56, 12.64];
const uwndYRange = [-11.6, 12.68];
const vwndXRange = [-7.65, 8.63];
const vwndYRange = [-7.62, 8.53];
const lgstRange = [0.7746, 1.171];

panel(0, 0, {
    title: "Station KLHW",
    xRange: [-3.95, 27.4], yRange: airRange, xTicks: dwpXTicks, yTicks: airTicks,
    xTitle: "DWP (Celsius)", yTitle: "air_temp (Celsius)", yGap: 34,
    layers: [
        polygon(airDwpDense, GRAY),
        grayRows(airDwpBusyRows, GRAY, 6, [5, 2]),
        grayRows(airDwpNearRows, "#aaaaaa", 3, [3, 4]),
        grayRows(airDwpSparseRows, "#b4b4b4", 3, [2, 9]),
        polygon(airDwpBlack, BLACK),
        dots(airDwpEdge, BLACK, MARK / 2),
        dots(airDwpSpeckle, "#9c9c9c", 2),
        ellipse(ellipseAirDwp),
    ],
});
panel(1, 0, {
    xRange: uwndRange, yRange: airRange, xTicks: uwndXTicks, yTicks: airTicks,
    layers: windLayers(airUwndDense, airUwndGrayCols, airUwndGrayRows, uwndCols, airUwndRuns, airUwndBlobs, ellipseAirUwnd),
});
panel(2, 0, {
    xRange: vwndXRange, yRange: airRange, xTicks: vwndTicks, yTicks: airTicks,
    layers: windLayers(airVwndDense, airVwndGrayCols, airVwndGrayRows, vwndCols, airVwndRuns, airVwndBlobs, ellipseAirVwnd),
});
panel(3, 0, {
    xRange: lgstRange, yRange: airRange, xTicks: lgstTicks, yTicks: airTicks,
    layers: lgstLayers(airLgstGray, airLgstRuns, ellipseAirLgst),
});
panel(1, 1, {
    xRange: uwndRange, yRange: dwpRange, xTicks: uwndXTicks, yTicks: dwpTicks,
    xTitle: "UWND (m/s)", yTitle: "DWP (Celsius)", yGap: 33,
    layers: windLayers(dwpUwndDense, dwpUwndGrayCols, dwpUwndGrayRows, uwndCols, dwpUwndRuns, dwpUwndBlobs, ellipseDwpUwnd),
});
panel(2, 1, {
    xRange: vwndXRange, yRange: dwpRange, xTicks: vwndTicks, yTicks: dwpTicks,
    layers: windLayers(dwpVwndDense, dwpVwndGrayCols, dwpVwndGrayRows, vwndCols, dwpVwndRuns, dwpVwndBlobs, ellipseDwpVwnd),
});
panel(3, 1, {
    xRange: lgstRange, yRange: dwpRange, xTicks: lgstTicks, yTicks: dwpTicks,
    layers: lgstLayers(dwpLgstGray, dwpLgstRuns, ellipseDwpLgst),
});
panel(2, 2, {
    xRange: vwndXRange, yRange: uwndYRange, xTicks: vwndTicks, yTicks: uwndYTicks,
    xTitle: "VWND (m/s)", yTitle: "UWND (m/s)", yGap: 19,
    layers: [
        stroke(farRays(steepRays.concat(midRays, flatRays)), "#b0b0b0", 2.5, [2, 9]),
        ringLine(calmRing1, [2, 2]),
        ringLine(calmRing2, [2, 3]),
        ringLine(calmRing3, [2, 5]),
        ringLine(calmRing4, [2, 7]),
        ringLine(calmRing5, [2, 9]),
        stroke(blackRays(steepRays), BLACK, MARK, [], "round"),
        stroke(blackRays(midRays), BLACK, MARK, [0.1, 12], "round"),
        stroke(blackRays(flatRays), BLACK, MARK, [0.1, 17], "round"),
        dots(rayOutliers, BLACK, MARK / 2),
        ellipse(ellipseUwndVwnd),
    ],
});
panel(3, 2, {
    xRange: lgstRange, yRange: uwndYRange, xTicks: lgstTicks, yTicks: uwndYTicks,
    layers: lgstLayers(uwndLgstGray, uwndLgstRuns, ellipseUwndLgst),
});
panel(3, 3, {
    xRange: lgstRange, yRange: vwndYRange, xTicks: lgstTicks, yTicks: vwndTicks,
    xTitle: "LGST (m/s)", yTitle: "VWND (m/s)", yGap: 45,
    layers: lgstLayers(vwndLgstGray, vwndLgstRuns, ellipseVwndLgst),
});
</script>
</body>
</html>
